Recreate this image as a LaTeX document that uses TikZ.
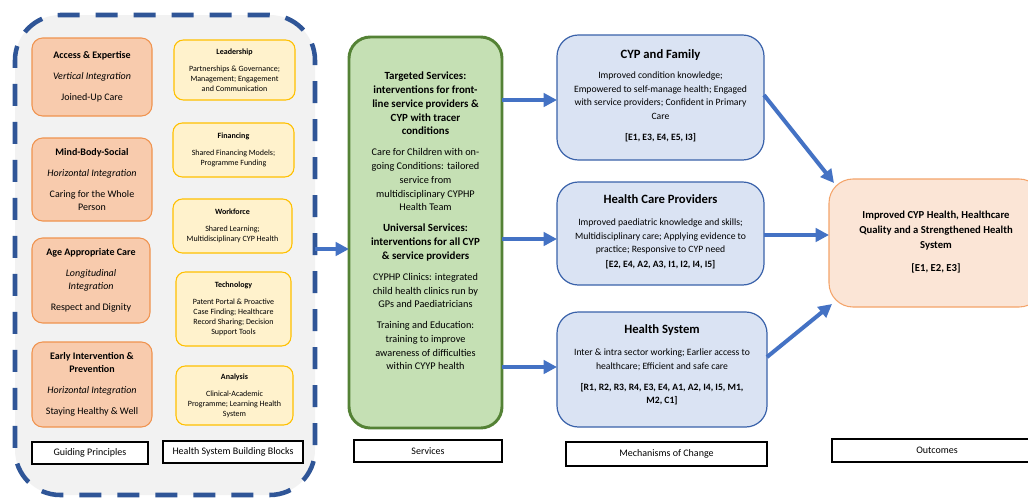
\documentclass[tikz,border=0pt]{standalone}
\usepackage{fontspec}
\setmainfont{Carlito}
\usetikzlibrary{fit,arrows.meta,calc}
\definecolor{frameblue}{HTML}{2F5597}
\definecolor{framegray}{HTML}{F2F2F2}
\definecolor{orangefill}{HTML}{F8CBAD}
\definecolor{orangeline}{HTML}{F0934F}
\definecolor{yellowfill}{HTML}{FFF2CC}
\definecolor{yellowline}{HTML}{FFC000}
\definecolor{greenfill}{HTML}{C5E0B4}
\definecolor{greenline}{HTML}{548235}
\definecolor{bluefill}{HTML}{DAE3F3}
\definecolor{blueline}{HTML}{3A62AA}
\definecolor{outfill}{HTML}{FBE5D6}
\definecolor{outline}{HTML}{F4A46A}
\definecolor{arrowblue}{HTML}{4472C4}
\newcommand\gb[1]{{\fontsize{8.2}{10}\selectfont\bfseries #1}}
\newcommand\ttl[1]{{\fontsize{9.5}{12}\selectfont\bfseries #1}}
\begin{document}
\begin{tikzpicture}[x=0.75pt,y=-0.75pt,
 every node/.style={inner sep=0pt, outer sep=0pt},
 sz/.style 2 args={minimum width=#1, minimum height=#2},
 frame/.style={draw=frameblue, fill=framegray, line width=3.4pt, dash pattern=on 16.5pt off 12pt, rounded corners=34pt},
 principle/.style={draw=orangeline, fill=orangefill, line width=0.8pt, rounded corners=8pt, align=center, font=\fontsize{7.5}{9.75}\selectfont},
 block/.style={draw=yellowline, fill=yellowfill, line width=0.8pt, rounded corners=7pt, align=center, font=\fontsize{6}{7.5}\selectfont},
 service/.style={draw=greenline, fill=greenfill, line width=2.2pt, rounded corners=16pt},
 mech/.style={draw=blueline, fill=bluefill, line width=0.9pt, rounded corners=16pt},
 outcome/.style={draw=outline, fill=outfill, line width=0.8pt, rounded corners=18pt},
 caption/.style={draw=black, fill=white, line width=0.8pt, font=\fontsize{7.5}{9}\selectfont},
 txt/.style={align=center},
 mechtxt/.style={align=center, font=\fontsize{7.25}{10.3}\selectfont},
 arr/.style={draw=arrowblue, line width=3pt, -{Triangle[length=10pt,width=10pt]}}
]
\clip (0,0) rectangle (1028,497);
\fill[white] (0,0) rectangle (1028,497);

% frame
\node[frame, fit={(15,15) (315,495)}] (frame) {};

% guiding principles
\node[principle, sz={90pt}{58.5pt}] (p1) at (92,77) {\textbf{Access \& Expertise}\\[6pt]\textit{Vertical Integration}\\[6pt]Joined-Up Care};
\node[principle, sz={90pt}{62.25pt}] (p2) at (92,179.5) {\textbf{Mind-Body-Social}\\[6pt]\textit{Horizontal Integration}\\[6pt]Caring for the Whole\\Person};
\node[principle, sz={88.5pt}{63.75pt}] (p3) at (91,280.5) {\textbf{Age Appropriate Care}\\[6pt]\textit{Longitudinal}\\\textit{Integration}\\[6pt]Respect and Dignity};
\node[principle, sz={90pt}{63.75pt}] (p4) at (92,384.5) {\textbf{Early Intervention \&}\\\textbf{Prevention}\\[6pt]\textit{Horizontal Integration}\\[6pt]Staying Healthy \& Well};

% building blocks
\node[block, sz={90.75pt}{45pt}] (b1) at (234.5,70) {\textbf{Leadership}\\[5.25pt]Partnerships \& Governance;\\Management; Engagement\\and Communication};
\node[block, sz={90.75pt}{40.5pt}] (b2) at (233.5,150) {\textbf{Financing}\\[5.25pt]Shared Financing Models;\\Programme Funding};
\node[block, sz={89.25pt}{40.5pt}] (b3) at (232.5,226) {\textbf{Workforce}\\[5.25pt]Shared Learning;\\Multidisciplinary CYP Health};
\node[block, sz={86.25pt}{55.5pt}] (b4) at (233.5,309) {\textbf{Technology}\\[5.25pt]Patent Portal \& Proactive\\Case Finding; Healthcare\\Record Sharing; Decision\\Support Tools};
\node[block, sz={87.75pt}{44.25pt}] (b5) at (234.5,395.5) {\textbf{Analysis}\\[5.25pt]Clinical-Academic\\Programme; Learning Health\\System};

% services
\node[service, fit={(349,37) (502,428)}] (svc) {};
\node[txt, font=\fontsize{7.7}{10.3}\selectfont] (svc-t) at (425.5,221) {\gb{Targeted Services:}\\\gb{interventions for front-}\\\gb{line service providers \&}\\\gb{CYP with tracer}\\\gb{conditions}\\[5.5pt]
Care for Children with on-\\going Conditions: tailored\\service from\\multidisciplinary CYPHP\\Health Team\\[5.5pt]
\gb{Universal Services:}\\\gb{interventions for all CYP}\\\gb{\& service providers}\\[5.5pt]
CYPHP Clinics: integrated\\child health clinics run by\\GPs and Paediatricians\\[5.2pt]
Training and Education:\\training to improve\\awareness of difficulties\\within CYYP health};

% mechanisms
\node[mech, fit={(557,35) (764,160)}] (cyp) {};
\node[mechtxt] (cyp-t) at (660.5,96) {\ttl{CYP and Family}\\[4.6pt]Improved condition knowledge;\\Empowered to self-manage health; Engaged\\with service providers; Confident in Primary\\Care\\[5.6pt]\textbf{[E1, E3, E4, E5, I3]}};
\node[mech, fit={(557,182) (764,285)}] (hcp) {};
\node[mechtxt] (hcp-t) at (660.5,232) {\ttl{Health Care Providers}\\[6pt]Improved paediatric knowledge and skills;\\Multidisciplinary care; Applying evidence to\\practice; Responsive to CYP need\\[1pt]\textbf{[E2, E4, A2, A3, I1, I2, I4, I5]}};
\node[mech, fit={(557,312) (767,427)}] (hs) {};
\node[mechtxt] (hs-t) at (662,365) {\ttl{Health System}\\[6pt]Inter \& intra sector working; Earlier access to\\healthcare; Efficient and safe care\\[5.6pt]\textbf{[R1, R2, R3, R4, E3, E4, A1, A2, I4, I5, M1,}\\\textbf{M2, C1]}};

% outcome
\node[outcome, fit={(829,179) (1043,307)}] (out) {};
\node[txt, font=\fontsize{8}{11.25}\selectfont\bfseries] (out-t) at (936,242.5) {Improved CYP Health, Healthcare\\Quality and a Strengthened Health\\System\\[6pt][E1, E2, E3]};

% captions
\node[caption, sz={87pt}{16.5pt}] (c1) at (90,453) {Guiding Principles};
\node[caption, sz={105pt}{16.5pt}] (c2) at (233,452) {Health System Building Blocks};
\node[caption, sz={111pt}{16.5pt}] (c3) at (428,451) {Services};
\node[caption, sz={150.75pt}{18pt}] (c4) at (666.5,454) {Mechanisms of Change};
\node[caption, sz={157.5pt}{17.25pt}] (c5) at (937,450.5) {Outcomes};

% arrows
\draw[arr] (frame.east |- 0,249) -- (svc.west |- 0,249);
\draw[arr] (svc.east |- 0,100) -- (cyp.west |- 0,100);
\draw[arr] (svc.east |- 0,239) -- (hcp.west |- 0,239);
\draw[arr] (svc.east |- 0,367) -- (hs.west |- 0,367);
\draw[arr] (cyp.east |- 0,95) -- ($(out.north west)+(5,4)$);
\draw[arr] (hcp.east |- 0,235) -- (out.west |- 0,235);
\draw[arr] (hs.east |- 0,357) -- ($(out.south west)+(3,-3)$);
\end{tikzpicture}
\end{document}
